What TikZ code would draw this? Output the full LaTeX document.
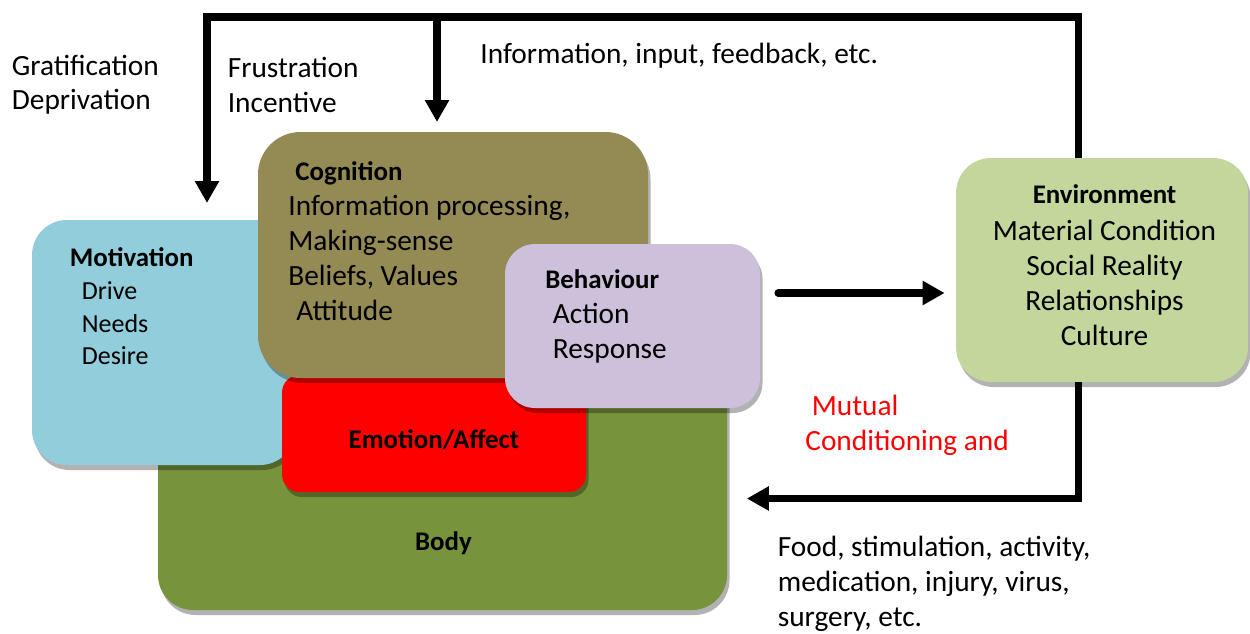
\documentclass[tikz,border=0pt]{standalone}
\usepackage{fontspec}
\setmainfont{Carlito}
\usetikzlibrary{arrows.meta,calc,shadows}
\definecolor{motblue}{HTML}{92CDDC}
\definecolor{cogtan}{HTML}{948A54}
\definecolor{bodygreen}{HTML}{77933C}
\definecolor{behlilac}{HTML}{CCC0DA}
\definecolor{envgreen}{HTML}{C3D69B}

\begin{document}
\begin{tikzpicture}
	\path [use as bounding box] (0,0) rectangle (25,12.66);
	\tikzstyle{box} = [rectangle, inner sep=0, drop shadow={shadow xshift=0.05cm, shadow yshift=-0.1cm, fill=black, opacity=0.3}]
	\tikzstyle{title} = [inner sep=0, anchor=base west, font=\fontsize{15.3}{19.8}\selectfont\bfseries]
	\tikzstyle{lines} = [inner sep=0, anchor=base west, align=left, font=\fontsize{16.7}{19.8}\selectfont]
	\tikzstyle{small lines} = [lines, font=\fontsize{14.8}{18.4}\selectfont]
	\tikzstyle{flow} = [line width=4pt, -{Triangle[width=0.46cm,length=0.44cm]}]

	\node[box, fill=bodygreen, minimum width=11.38cm, minimum height=5.6cm, rounded corners=0.7cm] (body) at (8.85,3.26) {};
	\node[box, fill=motblue, minimum width=5.26cm, minimum height=4.9cm, rounded corners=0.7cm] (mot) at (3.27,5.81) {};
	\node[box, fill=red, minimum width=6.08cm, minimum height=2.34cm, rounded corners=0.35cm] (emo) at (8.68,3.99) {};
	\node[box, fill=cogtan, minimum width=7.8cm, minimum height=4.92cm, rounded corners=0.85cm] (cog) at (9.06,7.56) {};
	\node[box, fill=behlilac, minimum width=5.1cm, minimum height=3.28cm, rounded corners=0.6cm] (beh) at (12.65,6.14) {};
	\node[box, fill=envgreen, minimum width=5.84cm, minimum height=4.48cm, rounded corners=0.7cm] (env) at (22.04,7.26) {};

	\coordinate (fb) at (21.56,12.32);
	\coordinate (motin) at (4.14,8.6);
	\coordinate (cogin) at (8.74,10.22);
	\coordinate (act) at (15.56,6.8);
	\coordinate (back) at (21.56,2.69);
	\draw[flow] (env.north -| fb) -- (fb) -| (motin);
	\draw[flow] (cogin |- fb) -- (cogin);
	\draw[flow, line cap=round, shorten >=0.22cm] (act) -- (act -| env.west);
	\draw[flow, shorten >=0.39cm] (env.south -| back) -- (back) -- (back -| body.east);

	\node[title] (mottitle) at (1.39,7.33) {Motivation};
	\node[small lines] (motlist) at (1.63,5.37) {Drive\\Needs\\Desire};
	\node[title] (cogtitle) at (5.9,9.06) {Cognition};
	\node[lines] (coglist) at (5.76,6.26) {Information processing,\\Making-sense\\Beliefs, Values\\\hspace{0.16cm}Attitude};
	\node[title] (behtitle) at (10.9,6.89) {Behaviour};
	\node[lines] (behlist) at (11.05,5.49) {Action\\Response};
	\node[title, anchor=base] (envtitle) at (22.09,8.59) {Environment};
	\node[lines, anchor=base, align=center] (envlist) at (22.09,5.76) {Material Condition\\Social Reality\\Relationships\\Culture};
	\node[title, anchor=base] (emotitle) at (8.68,3.70) {Emotion/Affect};
	\node[title, anchor=base] (bodytitle) at (8.87,1.66) {Body};

	\node[lines] (grat) at (0.23,10.46) {Gratification\\Deprivation};
	\node[lines] (frus) at (4.55,10.42) {Frustration\\Incentive};
	\node[lines] (info) at (9.6,11.38) {Information, input, feedback, etc.};
	\node[lines, text=red] (mutual) at (16.1,3.66) {\hspace{0.13cm}Mutual\\Conditioning and};
	\node[lines] (food) at (15.55,0.13) {Food, stimulation, activity,\\medication, injury, virus,\\surgery, etc.};
\end{tikzpicture}
\end{document}
